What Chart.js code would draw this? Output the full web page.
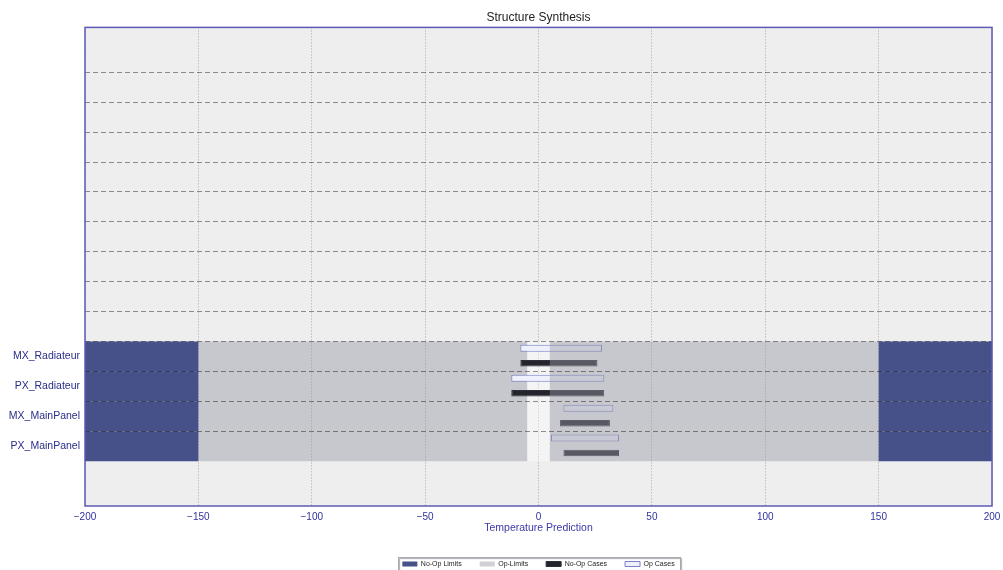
<!DOCTYPE html>
<html>
<head>
  <title>Structure Synthesis</title>
  <script src="https://cdn.jsdelivr.net/npm/chart.js"></script>
  <style>
    body { margin: 0; background: #ffffff; }
    .chart-box { width: 1003px; height: 570px; }
  </style>
</head>
<body>
  <div class="chart-box"><canvas id="synthChart"></canvas></div>
  <script>
    // components, from bottom to top
    const components = ['PX_MainPanel', 'MX_MainPanel', 'PX_Radiateur', 'MX_Radiateur'];
    const xTicks = [-200, -150, -100, -50, 0, 50, 100, 150, 200];

    // limits per component
    const noOpLimitMin = [-150, -150, -150, -150];
    const noOpLimitMax = [150, 150, 150, 150];
    const opLimitMin = [-5, -5, -5, -5];
    const opLimitMax = [5, 5, 5, 5];

    // predicted ranges per component
    const opCaseMin = [5.5, 11, -12, -8];
    const opCaseMax = [35.5, 33, 29, 28];
    const noOpCaseMin = [11, 9.5, -12, -8];
    const noOpCaseMax = [35.5, 31.5, 29, 26];

    // row boundaries drawn as dashed lines (incl. empty rows above)
    const rowLines = [0.5, 1.5, 2.5, 3.5, 4.5, 5.5, 6.5, 7.5, 8.5, 9.5, 10.5, 11.5, 12.5];

    const xMin = xTicks[0];
    const xMax = xTicks[xTicks.length - 1];

    function rows(fn) {
      return components.map((c, i) => fn(i));
    }

    const plotFrame = {
      id: 'plotFrame',
      beforeDraw(chart) {
        const { ctx, chartArea: a } = chart;
        ctx.save();
        ctx.fillStyle = '#eeeeee';
        ctx.fillRect(a.left, a.top, a.right - a.left, a.bottom - a.top);
        ctx.restore();
      },
      afterDraw(chart) {
        const { ctx, chartArea: a } = chart;
        ctx.save();
        ctx.strokeStyle = '#5b5bb5';
        ctx.lineWidth = 1.5;
        ctx.strokeRect(a.left, a.top, a.right - a.left, a.bottom - a.top);

        // frame round the legend
        const boxes = chart.legend.legendHitBoxes;
        if (boxes && boxes.length) {
          const first = boxes[0];
          const last = boxes[boxes.length - 1];
          const l = Math.round(first.left - 4);
          const t = Math.round(first.top - 4);
          const r = Math.round(last.left + last.width + 5);
          ctx.shadowColor = 'rgba(0,0,0,0.35)';
          ctx.shadowOffsetX = 1;
          ctx.shadowOffsetY = 1;
          ctx.shadowBlur = 1;
          ctx.strokeStyle = '#a9a9b6';
          ctx.lineWidth = 1;
          ctx.strokeRect(l + 0.5, t + 0.5, r - l, chart.height - t + 5);
        }
        ctx.restore();
      }
    };

    const ctx = document.getElementById('synthChart').getContext('2d');
    const synthChart = new Chart(ctx, {
      type: 'bar',
      data: {
        datasets: [
          {
            label: 'No-Op Limits',
            data: rows(i => [{ x: [xMin, noOpLimitMin[i]], y: i }, { x: [noOpLimitMax[i], xMax], y: i }]).flat(),
            backgroundColor: '#465189',
            borderWidth: 0,
            barThickness: 30
          },
          {
            label: 'Op-Limits',
            data: rows(i => ({ x: [opLimitMax[i], noOpLimitMax[i]], y: i })),
            backgroundColor: 'rgba(150, 153, 165, 0.45)',
            borderWidth: 0,
            barThickness: 30
          },
          {
            label: 'No-Op Cases',
            data: rows(i => ({ x: [noOpCaseMin[i], noOpCaseMax[i]], y: i - 0.23 })),
            backgroundColor: '#23242c',
            borderColor: '#2c2e3a',
            borderWidth: 1,
            borderSkipped: false,
            barThickness: 6.5
          },
          {
            label: 'Op Cases',
            data: rows(i => ({ x: [opCaseMin[i], opCaseMax[i]], y: i + 0.27 })),
            backgroundColor: '#eff0fd',
            borderColor: '#7880c8',
            borderWidth: 1,
            borderSkipped: false,
            barThickness: 7
          },
          {
            label: 'Op-Limits low',
            data: rows(i => ({ x: [noOpLimitMin[i], opLimitMin[i]], y: i })),
            backgroundColor: 'rgba(150, 153, 165, 0.45)',
            borderWidth: 0,
            barThickness: 30
          },
          {
            label: 'Op band',
            data: rows(i => ({ x: [opLimitMin[i], opLimitMax[i]], y: i })),
            backgroundColor: 'rgba(255, 255, 255, 0.35)',
            borderWidth: 0,
            barThickness: 30
          }
        ].map(d => Object.assign(d, { stack: 'all', inflateAmount: 0 }))
      },
      options: {
        indexAxis: 'y',
        responsive: true,
        maintainAspectRatio: false,
        animation: false,
        layout: { padding: { left: 0, right: 11, top: 0, bottom: -7.5 } },
        scales: {
          x: {
            type: 'linear',
            stacked: false,
            min: xMin,
            max: xMax,
            afterBuildTicks: s => { s.ticks = xTicks.map(v => ({ value: v })); },
            afterFit: s => { s.height = 36.5; s.paddingRight = 0; },
            ticks: {
              padding: 5,
              color: '#30339a',
              font: { family: '"Liberation Sans", Arial, sans-serif', size: 10 },
              callback: v => (v < 0 ? '\u2212' + Math.abs(v) : String(v))
            },
            grid: { color: '#a8a8a8', lineWidth: 1, drawTicks: false },
            border: { display: false, dash: [1, 2] },
            title: {
              display: true,
              text: 'Temperature Prediction',
              color: '#3a3aa8',
              font: { family: '"Liberation Sans", Arial, sans-serif', size: 10.5 },
              padding: { top: 0, bottom: 8.5 }
            }
          },
          y: {
            type: 'linear',
            min: -2,
            max: 14,
            offset: false,
            afterBuildTicks: s => {
              const ticks = components.map((c, i) => i).concat(rowLines).sort((a, b) => a - b);
              s.ticks = ticks.map(v => ({ value: v }));
            },
            afterFit: s => { s.width = 85; },
            ticks: {
              autoSkip: false,
              padding: 5,
              color: '#2a2d88',
              font: { family: '"Liberation Sans", Arial, sans-serif', size: 10.5 },
              callback: v => (Number.isInteger(v) && components[v] ? components[v] : '')
            },
            grid: {
              offset: false,
              z: 1,
              drawTicks: false,
              lineWidth: 1,
              color: c => (c.tick && !Number.isInteger(c.tick.value) ? 'rgba(0, 0, 0, 0.42)' : 'rgba(0,0,0,0)')
            },
            border: { display: false, dash: [5, 3] }
          }
        },
        plugins: {
          title: {
            display: true,
            text: 'Structure Synthesis',
            fullSize: false,
            color: '#222222',
            font: { family: '"Liberation Sans", Arial, sans-serif', size: 12, weight: 'normal' },
            padding: { top: 10, bottom: 3 }
          },
          legend: {
            position: 'bottom',
            fullSize: false,
            labels: {
              boxWidth: 15,
              boxHeight: 5,
              padding: 18,
              color: '#222222',
              font: { family: '"Liberation Sans", Arial, sans-serif', size: 7 },
              filter: item => item.datasetIndex < 4
            }
          },
          tooltip: { enabled: false }
        }
      },
      plugins: [plotFrame]
    });
  </script>
</body>
</html>
